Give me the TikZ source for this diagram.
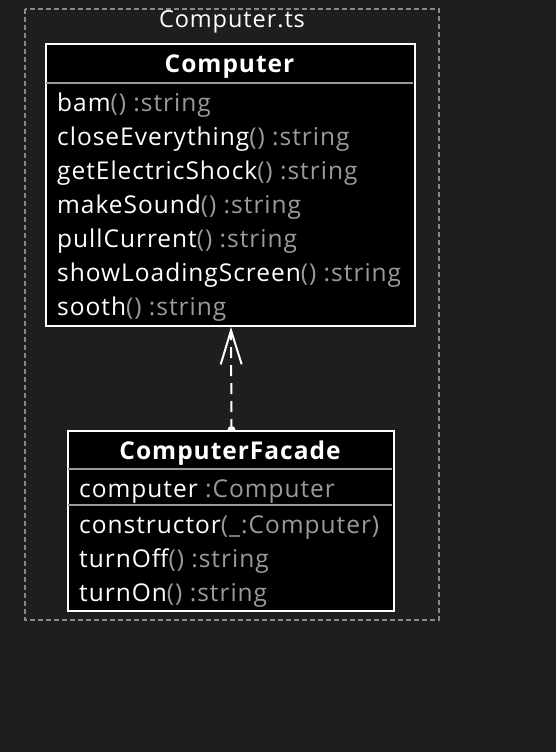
\documentclass[tikz,border=0pt]{standalone}
\usepackage{fontspec}
\setmainfont{Open Sans}[LetterSpace=4]
\usetikzlibrary{arrows.meta}
\definecolor{bg}{HTML}{1E1E1E}
\definecolor{dim}{HTML}{9A9A9A}
\definecolor{sepc}{HTML}{9A9A9A}
\definecolor{pkgc}{HTML}{8A8A8A}
\tikzset{
  classbox/.style={draw=white, line width=2pt, fill=black, inner sep=0pt, anchor=north west},
  sepline/.style={draw=sepc, line width=2pt},
  mem/.style={anchor=base west, inner sep=0pt, text=white, font=\fontsize{24.5}{26}\selectfont},
  title/.style={anchor=base, inner sep=0pt, text=white, font=\fontsize{24.5}{26}\selectfont\bfseries},
  pkg/.style={draw=pkgc, line width=1.2pt, dash pattern=on 5pt off 3pt},
  dep/.style={draw=white, line width=2pt, dash pattern=on 11pt off 7pt, -{Straight Barb[length=34pt,width=21pt,line width=2pt]}},
}
\newcommand{\dm}[1]{\textcolor{dim}{#1}}
\begin{document}
\begin{tikzpicture}[x=1pt,y=-1pt]
\fill[bg] (0,0) rectangle (556,752);
\useasboundingbox (0,0) rectangle (556,752);
% package
\draw[pkg] (25,9) rectangle (439,620);
\node[anchor=base, inner sep=0pt, text=white, font=\fontsize{23.5}{26}\selectfont] (pkgl) at (232,28) {Computer.ts};
% Computer
\node[classbox, minimum width=369pt, minimum height=282pt] (comp) at (45,43) {};
\node[title] (compt) at (229.5,73) {Computer};
\draw[sepline] (46,83) -- (413,83);
\node[mem] (m1) at (57,111) {bam\dm{() :string}};
\node[mem] (m2) at (57,145) {closeEverything\dm{() :string}};
\node[mem] (m3) at (57,179) {getElectricShock\dm{() :string}};
\node[mem] (m4) at (57,213) {makeSound\dm{() :string}};
\node[mem] (m5) at (57,247) {pullCurrent\dm{() :string}};
\node[mem] (m6) at (57,281) {showLoadingScreen\dm{() :string}};
\node[mem] (m7) at (57,315) {sooth\dm{() :string}};
% ComputerFacade
\node[classbox, minimum width=326pt, minimum height=180pt] (fac) at (67,430) {};
\node[title] (fact) at (230,459) {ComputerFacade};
\draw[sepline] (68,469) -- (392,469);
\node[mem] (a1) at (79,497) {computer \dm{:Computer}};
\draw[sepline] (68,505) -- (392,505);
\node[mem] (f1) at (79,533) {constructor\dm{(\_:Computer)}};
\node[mem] (f2) at (79,567) {turnOff\dm{() :string}};
\node[mem] (f3) at (79,601) {turnOn\dm{() :string}};
% dependency
\draw[dep] ([xshift=0.5pt]fac.north) -- ([xshift=0.5pt]comp.south);
\fill[white] ([xshift=4.5pt]fac.north) arc[start angle=0, end angle=180, radius=4pt];
\end{tikzpicture}
\end{document}
